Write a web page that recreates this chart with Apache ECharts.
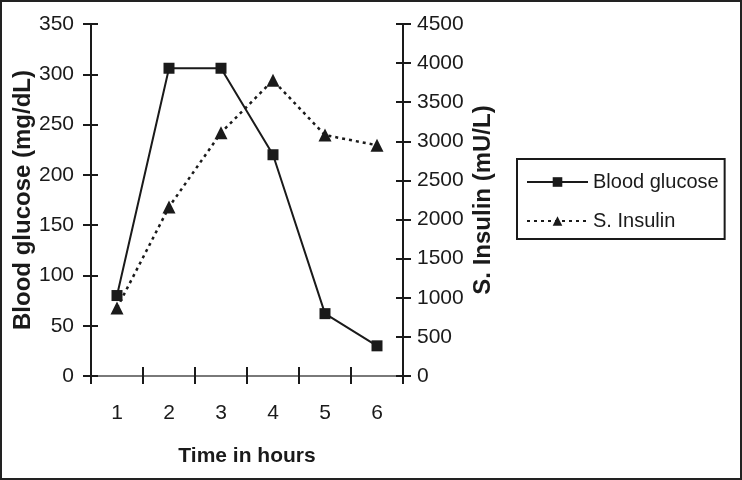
<!DOCTYPE html>
<html>
<head>
<meta charset="utf-8">
<script src="https://cdn.jsdelivr.net/npm/echarts@6/dist/echarts.min.js"></script>
<style>
  * { box-sizing: border-box; }
  html, body { margin: 0; padding: 0; background: #fff; }
  #chart { width: 742px; height: 480px; border: 2px solid #222; }
</style>
</head>
<body>
<div id="chart"></div>
<script>
// time points (hours)
const hours = ['1', '2', '3', '4', '5', '6'];
// blood glucose, mg/dL
const glucose = [80, 306, 306, 220, 62, 30];
// serum insulin, mU/L
const insulin = [870, 2160, 3110, 3780, 3080, 2950];

const ink = '#1a1a1a';
const font = "'Liberation Sans', Arial, sans-serif";

let myChart = echarts.init(document.getElementById('chart'));

// the reference has ticks that cross the axis line, so every axis is drawn twice:
// once with outside ticks + labels, once with inside ticks only
let option = {
    animation: false,
    backgroundColor: '#fff',
    grid: { left: 89, right: 337, top: 22, bottom: 102 },
    legend: {
        orient: 'vertical',
        left: 515,
        top: 157,
        backgroundColor: '#fff',
        borderColor: ink,
        borderWidth: 2,
        borderRadius: 0,
        padding: [11, 6, 6, 9],
        itemWidth: 61,
        itemHeight: 12,
        itemGap: 15,
        textStyle: { fontFamily: font, fontSize: 20, color: ink, lineHeight: 24 },
        data: ['Blood glucose', 'S. Insulin']
    },
    xAxis: [
        {
            type: 'category',
            data: hours,
            position: 'bottom',
            boundaryGap: true,
            axisLine: { lineStyle: { color: ink, width: 2 } },
            axisTick: { show: true, inside: false, length: 8, lineStyle: { color: ink, width: 2 } },
            axisLabel: { margin: 27, fontFamily: font, fontSize: 21, color: ink },
            name: 'Time in hours',
            nameLocation: 'middle',
            nameGap: 70,
            nameTextStyle: { fontFamily: font, fontSize: 21, fontWeight: 'bold', color: ink }
        },
        {
            type: 'category',
            data: hours,
            position: 'bottom',
            boundaryGap: true,
            axisLine: { show: false },
            axisTick: { show: true, inside: true, length: 9, lineStyle: { color: ink, width: 2 } },
            axisLabel: { show: false }
        },
        {
            type: 'category',
            data: hours,
            position: 'top',
            boundaryGap: true,
            axisLine: { lineStyle: { color: '#999', width: 1.5 } },
            axisTick: { show: false },
            axisLabel: { show: false }
        }
    ],
    yAxis: [
        {
            type: 'value',
            position: 'left',
            min: 0,
            max: 350,
            interval: 50,
            splitLine: { show: false },
            axisLine: { show: true, lineStyle: { color: ink, width: 2 } },
            axisTick: { show: true, inside: false, length: 8, lineStyle: { color: ink, width: 2 } },
            axisLabel: { margin: 17, fontFamily: font, fontSize: 21, color: ink },
            name: 'Blood glucose (mg/dL)',
            nameLocation: 'middle',
            nameRotate: 90,
            nameGap: 56,
            nameTextStyle: { fontFamily: font, fontSize: 24, fontWeight: 'bold', color: ink }
        },
        {
            type: 'value',
            position: 'left',
            min: 0,
            max: 350,
            interval: 50,
            splitLine: { show: false },
            axisLine: { show: false },
            axisTick: { show: true, inside: true, length: 7, lineStyle: { color: ink, width: 2 } },
            axisLabel: { show: false }
        },
        {
            type: 'value',
            position: 'right',
            min: 0,
            max: 4500,
            interval: 500,
            splitLine: { show: false },
            axisLine: { show: true, lineStyle: { color: ink, width: 2 } },
            axisTick: { show: true, inside: false, length: 8, lineStyle: { color: ink, width: 2 } },
            axisLabel: { margin: 14, fontFamily: font, fontSize: 21, color: ink, formatter: v => String(v) },
            name: 'S. Insulin (mU/L)',
            nameLocation: 'middle',
            nameRotate: 90,
            nameGap: 68,
            nameTextStyle: { fontFamily: font, fontSize: 24, fontWeight: 'bold', color: ink }
        },
        {
            type: 'value',
            position: 'right',
            min: 0,
            max: 4500,
            interval: 500,
            splitLine: { show: false },
            axisLine: { show: false },
            axisTick: { show: true, inside: true, length: 7, lineStyle: { color: ink, width: 2 } },
            axisLabel: { show: false }
        }
    ],
    series: [
        {
            name: 'Blood glucose',
            type: 'line',
            xAxisIndex: 0,
            yAxisIndex: 0,
            data: glucose,
            symbol: 'rect',
            symbolSize: 11,
            showAllSymbol: true,
            itemStyle: { color: ink },
            lineStyle: { color: ink, width: 2, type: 'solid' },
            z: 3
        },
        {
            name: 'S. Insulin',
            type: 'line',
            xAxisIndex: 0,
            yAxisIndex: 2,
            data: insulin,
            symbol: 'triangle',
            symbolSize: 13,
            showAllSymbol: true,
            itemStyle: { color: ink },
            lineStyle: { color: ink, width: 2.5, type: [3, 4] },
            z: 2
        }
    ]
};

option && myChart.setOption(option);
</script>
</body>
</html>
